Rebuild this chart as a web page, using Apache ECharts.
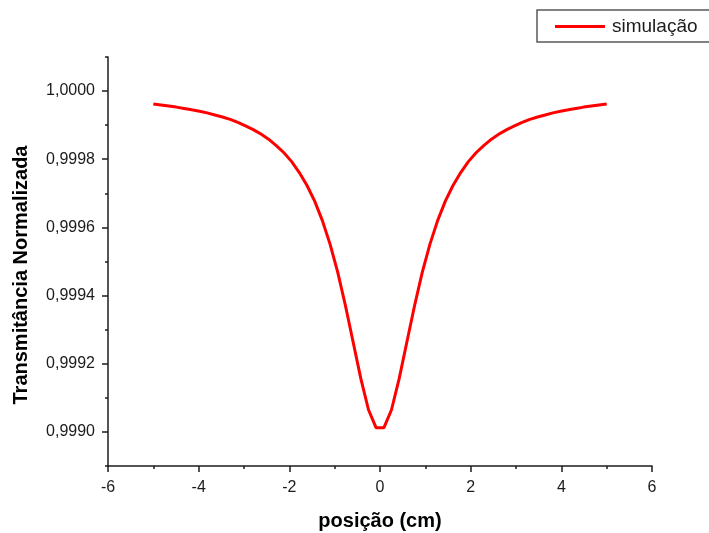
<!DOCTYPE html>
<html>
<head>
<meta charset="utf-8">
<script src="https://cdn.jsdelivr.net/npm/echarts@6/dist/echarts.min.js"></script>
<style>
  html, body { margin: 0; padding: 0; background: #ffffff; }
  #chart { width: 709px; height: 533px; }
</style>
</head>
<body>
<div id="chart"></div>
<script>
// Z-scan position (cm) and normalized transmittance of the simulated curve
const posicao = [
  -5.000, -4.831, -4.661, -4.492, -4.322, -4.153, -3.983, -3.814, -3.644, -3.475,
  -3.305, -3.136, -2.966, -2.797, -2.627, -2.458, -2.288, -2.119, -1.949, -1.780,
  -1.610, -1.441, -1.271, -1.102, -0.932, -0.763, -0.593, -0.424, -0.254, -0.085,
   0.085,  0.254,  0.424,  0.593,  0.763,  0.932,  1.102,  1.271,  1.441,  1.610,
   1.780,  1.949,  2.119,  2.288,  2.458,  2.627,  2.797,  2.966,  3.136,  3.305,
   3.475,  3.644,  3.814,  3.983,  4.153,  4.322,  4.492,  4.661,  4.831,  5.000
];
const transmitancia = [
  0.999962, 0.999959, 0.999956, 0.999953, 0.999949, 0.999945, 0.999941, 0.999936, 0.999930, 0.999924,
  0.999917, 0.999908, 0.999898, 0.999887, 0.999874, 0.999859, 0.999840, 0.999819, 0.999793, 0.999761,
  0.999723, 0.999677, 0.999620, 0.999551, 0.999468, 0.999371, 0.999264, 0.999157, 0.999065, 0.999012,
  0.999012, 0.999065, 0.999157, 0.999264, 0.999371, 0.999468, 0.999551, 0.999620, 0.999677, 0.999723,
  0.999761, 0.999793, 0.999819, 0.999840, 0.999859, 0.999874, 0.999887, 0.999898, 0.999908, 0.999917,
  0.999924, 0.999930, 0.999936, 0.999941, 0.999945, 0.999949, 0.999953, 0.999956, 0.999959, 0.999962
];
const yTicks = [0.9990, 0.9992, 0.9994, 0.9996, 0.9998, 1.0000];
const seriesName = 'simulação';
const xTitle = 'posição (cm)';
const yTitle = 'Transmitância Normalizada';

const FONT = '"Liberation Sans", Arial, sans-serif';
const INK = '#1c1c1c';

const chart = echarts.init(document.getElementById('chart'), null, { renderer: 'canvas' });

const points = posicao.map((x, i) => [x, transmitancia[i]]);

const tickLine = { color: INK, width: 1.5 };

chart.setOption({
  animation: false,
  backgroundColor: '#ffffff',
  grid: { left: 108, right: 57, top: 57, bottom: 67, containLabel: false, outerBoundsMode: 'none' },
  legend: {
    left: 537, top: 10,
    padding: [7, 30, 6, 18],
    itemWidth: 50, itemHeight: 3,
    icon: 'rect',
    borderColor: '#5a5a5a', borderWidth: 1.5, borderRadius: 0,
    textStyle: { fontFamily: FONT, fontSize: 19, color: INK, padding: [0, 0, 0, 2] },
    data: [seriesName]
  },
  xAxis: [
    {
      type: 'value', min: -6, max: 6, interval: 2,
      name: xTitle, nameLocation: 'middle', nameGap: 45,
      nameTextStyle: { fontFamily: FONT, fontSize: 20, fontWeight: 'bold', color: '#000' },
      axisLine: { show: true, onZero: false, lineStyle: tickLine },
      axisTick: { show: true, inside: false, length: 6, lineStyle: tickLine },
      axisLabel: { fontFamily: FONT, fontSize: 16, color: INK, margin: 14 },
      splitLine: { show: false }
    },
    {
      // minor ticks every 1 cm
      type: 'value', min: -6, max: 6, interval: 1, position: 'bottom', offset: 0,
      axisLine: { show: false, onZero: false },
      axisTick: { show: true, inside: false, length: 3, lineStyle: tickLine },
      axisLabel: { show: false },
      splitLine: { show: false }
    }
  ],
  yAxis: [
    {
      type: 'value', min: 0.9989, max: 1.0001,
      axisLine: { show: true, onZero: false, lineStyle: tickLine },
      axisTick: { show: true, inside: false, length: 6, customValues: yTicks, lineStyle: tickLine },
      axisLabel: {
        fontFamily: FONT, fontSize: 16, color: INK, margin: 13,
        customValues: yTicks,
        formatter: v => v.toFixed(4).replace('.', ',')
      },
      splitLine: { show: false }
    },
    {
      // minor ticks every 0.0001
      type: 'value', min: 0.9989, max: 1.0001, interval: 0.0001, position: 'left', offset: 0,
      axisLine: { show: false, onZero: false },
      axisTick: { show: true, inside: false, length: 3, lineStyle: tickLine },
      axisLabel: { show: false },
      splitLine: { show: false }
    }
  ],
  series: [{
    name: seriesName,
    type: 'line',
    data: points,
    xAxisIndex: 0,
    yAxisIndex: 0,
    symbol: 'none',
    smooth: false,
    lineStyle: { color: '#ff0000', width: 3 },
    itemStyle: { color: '#ff0000' }
  }],
  graphic: [{
    type: 'text',
    x: 21, y: 275,
    rotation: Math.PI / 2,
    style: {
      text: yTitle,
      fontFamily: FONT, fontSize: 20, fontWeight: 'bold',
      fill: '#000',
      align: 'center', verticalAlign: 'middle'
    }
  }]
});
</script>
</body>
</html>
